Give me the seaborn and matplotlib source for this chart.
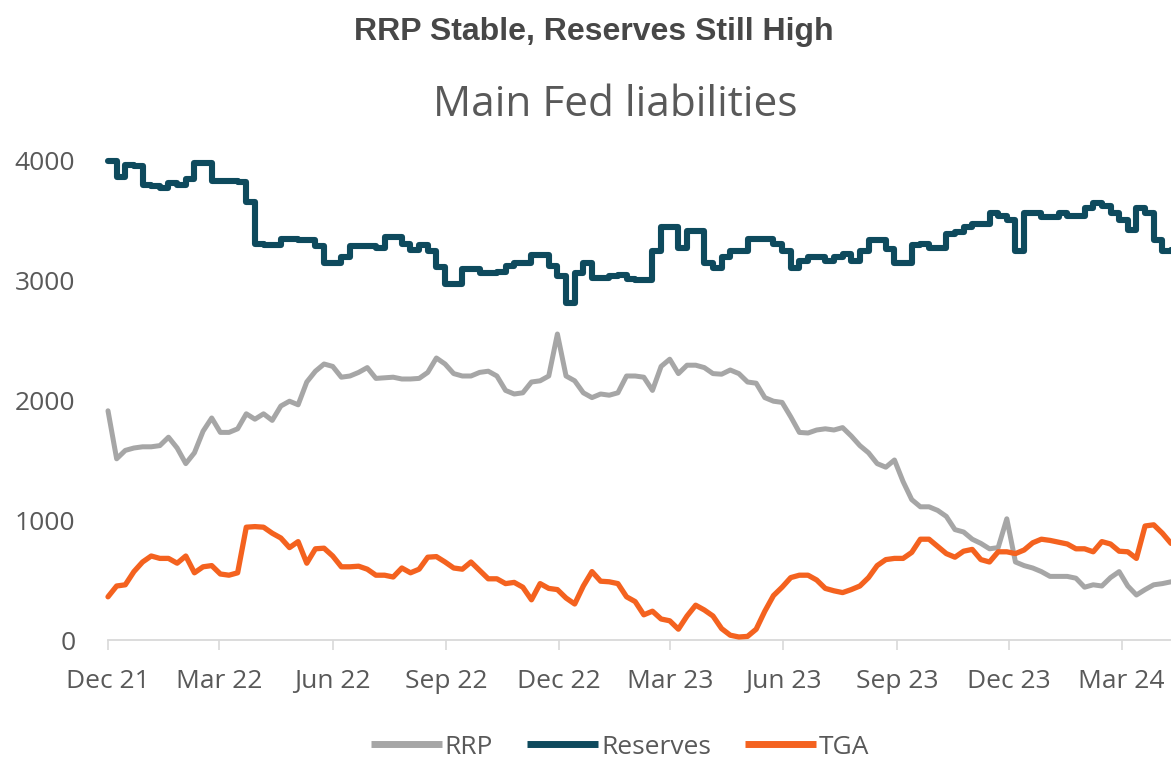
import numpy as np
import pandas as pd
import matplotlib
matplotlib.use("Agg")
import matplotlib.pyplot as plt
import seaborn as sns
from matplotlib.lines import Line2D

# ---------------- data (weekly, starting 1 Dec 2021) ----------------
start_date = "2021-12-01"

rrp = [1910, 1510, 1580, 1600, 1610, 1610, 1620, 1690, 1600, 1470,
       1560, 1740, 1850, 1730, 1730, 1760, 1885, 1840, 1885, 1830,
       1950, 1990, 1960, 2150, 2240, 2300, 2280, 2190, 2200, 2230,
       2270, 2180, 2185, 2190, 2175, 2175, 2180, 2230, 2350, 2300,
       2220, 2200, 2200, 2230, 2240, 2200, 2080, 2050, 2060, 2150,
       2160, 2200, 2550, 2200, 2160, 2060, 2020, 2050, 2040, 2060,
       2200, 2200, 2190, 2080, 2280, 2340, 2220, 2290, 2290, 2270,
       2220, 2215, 2250, 2220, 2150, 2140, 2020, 1990, 1980, 1860,
       1730, 1725, 1750, 1760, 1750, 1770, 1700, 1620, 1560, 1470,
       1440, 1500, 1320, 1170, 1110, 1110, 1080, 1030, 920, 900,
       840, 805, 760, 770, 1010, 650, 620, 600, 570, 530,
       530, 530, 515, 440, 460, 450, 520, 570, 450, 375,
       420, 460, 470, 485]

reserves = [3990, 3860, 3960, 3950, 3790, 3780, 3770, 3810, 3790, 3840,
            3975, 3975, 3825, 3825, 3825, 3820, 3650, 3300, 3290, 3290,
            3345, 3345, 3330, 3330, 3280, 3145, 3145, 3190, 3280, 3280,
            3280, 3265, 3355, 3355, 3300, 3250, 3290, 3240, 3105, 2970,
            2970, 3095, 3095, 3055, 3055, 3065, 3120, 3140, 3140, 3205,
            3205, 3120, 3030, 2810, 3060, 3145, 3020, 3015, 3030, 3040,
            3010, 3000, 3000, 3245, 3440, 3440, 3265, 3410, 3410, 3140,
            3100, 3190, 3245, 3245, 3345, 3345, 3345, 3300, 3240, 3100,
            3160, 3190, 3190, 3160, 3190, 3215, 3160, 3245, 3330, 3330,
            3260, 3140, 3140, 3290, 3300, 3270, 3270, 3380, 3400, 3440,
            3470, 3470, 3555, 3530, 3500, 3245, 3560, 3560, 3525, 3525,
            3560, 3530, 3530, 3600, 3640, 3620, 3560, 3500, 3415, 3600,
            3560, 3330, 3245, 3250]

tga = [360, 450, 460, 570, 650, 700, 680, 680, 640, 700,
       560, 610, 620, 550, 540, 560, 940, 945, 940, 890,
       850, 770, 820, 640, 760, 765, 700, 610, 610, 615,
       590, 540, 540, 525, 600, 560, 590, 690, 695, 650,
       600, 590, 650, 580, 510, 510, 470, 480, 440, 335,
       470, 430, 420, 350, 300, 450, 570, 490, 485, 470,
       360, 320, 210, 240, 175, 160, 90, 200, 290, 250,
       200, 95, 40, 25, 30, 90, 240, 370, 440, 520,
       540, 540, 500, 430, 410, 395, 420, 450, 520, 620,
       670, 680, 680, 730, 840, 840, 780, 720, 690, 740,
       755, 670, 650, 735, 735, 720, 750, 810, 840, 830,
       815, 800, 760, 760, 735, 820, 800, 740, 735, 680,
       950, 960, 890, 805]

tick_dates = ["2021-12-01", "2022-03-01", "2022-06-01", "2022-09-01", "2022-12-01",
              "2023-03-01", "2023-06-01", "2023-09-01", "2023-12-01", "2024-03-01"]
tick_labels = ["Dec 21", "Mar 22", "Jun 22", "Sep 22", "Dec 22",
               "Mar 23", "Jun 23", "Sep 23", "Dec 23", "Mar 24"]
y_ticks = [0, 1000, 2000, 3000, 4000]

series_names = ["RRP", "Reserves", "TGA"]
colors = {"RRP": "#a6a6a6", "Reserves": "#0e4a5d", "TGA": "#f4621f"}

dates = pd.date_range(start_date, periods=len(rrp), freq="7D")
df = pd.DataFrame({"date": dates, "RRP": rrp, "Reserves": reserves, "TGA": tga})

# ---------------- style ----------------
sns.set_theme(style="white")
plt.rcParams["font.family"] = ["Open Sans", "DejaVu Sans"]
text_grey = "#595959"

W, H = 1171, 760
fig = plt.figure(figsize=(W / 100, H / 100), dpi=100)
ax = fig.add_axes([108 / W, 1 - 640 / H, 1 - 108 / W, (640 - 160) / H])

sns.lineplot(data=df, x="date", y="RRP", ax=ax, color=colors["RRP"],
             linewidth=3.6, clip_on=False, zorder=2)
sns.lineplot(data=df, x="date", y="Reserves", ax=ax, color=colors["Reserves"],
             linewidth=4.4, drawstyle="steps-post", clip_on=False, zorder=3)
sns.lineplot(data=df, x="date", y="TGA", ax=ax, color=colors["TGA"],
             linewidth=3.8, clip_on=False, zorder=4)

ax.set_xlim(dates[0], dates[-1])
ax.set_ylim(0, 4000)
ax.set_xlabel("")
ax.set_ylabel("")

ax.set_xticks(pd.to_datetime(tick_dates))
ax.set_xticklabels(tick_labels)
ax.set_yticks(y_ticks)
ax.set_yticklabels([str(v) for v in y_ticks])

for s in ["top", "right", "left"]:
    ax.spines[s].set_visible(False)
ax.spines["bottom"].set_color("#d9d9d9")
ax.spines["bottom"].set_linewidth(1.3)
ax.grid(False)

ax.tick_params(axis="x", which="major", direction="out", length=7.2, width=1.2,
               color="#d9d9d9", labelsize=19, labelcolor=text_grey, pad=14, bottom=True)
ax.tick_params(axis="y", length=0, labelsize=19, labelcolor=text_grey, pad=23.5)

# titles
fig.text(594 / W, 1 - 32 / H, "RRP Stable, Reserves Still High",
         ha="center", va="center", fontsize=23, fontweight="bold",
         color="#474747", family=["Liberation Sans", "DejaVu Sans"])
fig.text(615 / W, 1 - 105 / H, "Main Fed liabilities",
         ha="center", va="center", fontsize=30.5, color=text_grey)

# legend
handles = [Line2D([0], [0], color=colors[n], lw=5, solid_capstyle="butt")
           for n in series_names]
leg = fig.legend(handles, series_names, loc="center", bbox_to_anchor=(620 / W, 1 - 747 / H),
                 ncol=3, frameon=False, fontsize=19, handlelength=2.7,
                 handletextpad=0.1, columnspacing=1.3)
for t in leg.get_texts():
    t.set_color(text_grey)

fig.savefig("out.png", dpi=100)
